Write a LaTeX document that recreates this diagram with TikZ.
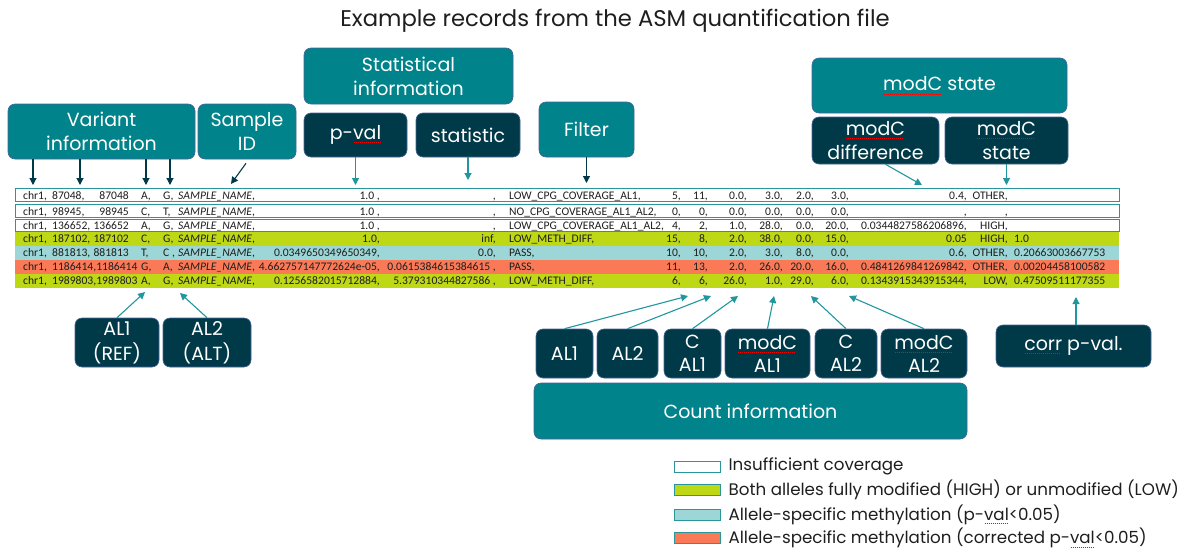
\documentclass[tikz,border=0pt]{standalone}
\usepackage{fontspec}
\setmainfont{Poppins}
\newfontfamily\rowfont{Carlito}
\usetikzlibrary{arrows.meta,positioning}

\definecolor{asmteal}{RGB}{0,131,138}
\definecolor{asmdark}{RGB}{0,58,72}
\definecolor{asmedge}{RGB}{70,100,150}
\definecolor{asmarrow}{RGB}{32,150,158}
\definecolor{asmline}{RGB}{42,150,156}
\definecolor{asmgreen}{RGB}{190,216,22}
\definecolor{asmcyan}{RGB}{156,214,214}
\definecolor{asmred}{RGB}{250,122,88}
\definecolor{asmtext}{RGB}{30,30,30}

% red dotted spell-check mark under a word
\newcommand{\spell}[2][white]{\setbox0\hbox{#2}\rlap{\raisebox{-3.5pt}{\color{red}\hbox to\wd0{\leaders\hbox to 2pt{\hss\rule{1pt}{0.6pt}\hss}\hfill}}}\textcolor{#1}{#2}}

% one record: left part (sets the baseline) and right part
\newcommand{\rowA}[8]{%
  \def\rowy{#1}%
  \node[fld,anchor=base west] at (23,\rowy) {chr1,};
  \node[fld,anchor=base west] at (52,\rowy) {#2};
  \node[fld,anchor=base east] at (129,\rowy) {#3};
  \node[fld,anchor=base west] at (141,\rowy) {#4};
  \node[fld,anchor=base west] at (163,\rowy) {#5};
  \node[fld,anchor=base west] at (178,\rowy) {\textit{SAMPLE\_NAME},};
  \node[fld,anchor=base east] at (380,\rowy) {#6};
  \node[fld,anchor=base east] at (496,\rowy) {#7};
  \node[fld,anchor=base west] at (509,\rowy) {#8};}
\newcommand{\rowB}[9]{%
  \node[fld,anchor=base east] at (681,\rowy) {#1};
  \node[fld,anchor=base east] at (708,\rowy) {#2};
  \node[fld,anchor=base east] at (747,\rowy) {#3};
  \node[fld,anchor=base east] at (783,\rowy) {#4};
  \node[fld,anchor=base east] at (814,\rowy) {#5};
  \node[fld,anchor=base east] at (849,\rowy) {#6};
  \node[fld,anchor=base east] at (967,\rowy) {#7};
  \node[fld,anchor=base east] at (1008,\rowy) {#8};
  \node[fld,anchor=base west] at (1014,\rowy) {#9};}

\begin{document}
\begin{tikzpicture}[x=1pt,y=-1pt,
  box/.style={rounded corners=7pt,draw=asmedge,line width=0.6pt,text=white,align=center,inner sep=0pt,font=\fontsize{19}{24}\selectfont},
  tealbox/.style={box,fill=asmteal},
  darkbox/.style={box,fill=asmdark},
  rowbox/.style={minimum width=1104pt,minimum height=14pt,inner sep=0pt,outer sep=0pt},
  fld/.style={inner sep=0pt,text=asmtext,font=\rowfont\fontsize{11.6}{13}\selectfont},
  darrow/.style={draw=asmdark,line width=1.1pt,-{Triangle[length=7pt,width=7pt]}},
  tarrow/.style={draw=asmarrow,line width=1.1pt,-{Triangle[length=7pt,width=7pt]}},
  legbox/.style={draw=asmline,line width=0.8pt,minimum width=46pt,minimum height=11pt,inner sep=0pt},
  legtext/.style={font=\fontsize{16.7}{19}\selectfont,text=asmtext,inner sep=0pt,anchor=west}]
\useasboundingbox (0,0) rectangle (1192,549);

\node[font=\fontsize{22.7}{26}\selectfont,text=asmtext] (title) at (615,21) {Example records from the ASM quantification file};

% boxes above the records
\node[tealbox,minimum width=187pt,minimum height=55pt] (varinfo) at (101.5,131.5) {Variant\\information};
\node[tealbox,minimum width=98pt,minimum height=55pt] (sampleid) at (247,131.5) {Sample\\ID};
\node[tealbox,minimum width=209pt,minimum height=56pt] (statinfo) at (408.5,76) {Statistical\\information};
\node[darkbox,minimum width=103pt,minimum height=44pt] (pval) at (355.5,135) {p-\spell{val}};
\node[darkbox,minimum width=104pt,minimum height=44pt] (statistic) at (468,135) {statistic};
\node[tealbox,minimum width=95pt,minimum height=55pt] (filter) at (586.5,129.5) {Filter};
\node[tealbox,minimum width=255pt,minimum height=55pt] (modcinfo) at (939.5,85.5) {\spell{modC} state};
\node[darkbox,minimum width=127pt,minimum height=47pt] (modcdiff) at (875.5,140.5) {\spell{modC}\\difference};
\node[darkbox,minimum width=123pt,minimum height=47pt] (modcstate) at (1006.5,140.5) {\spell{modC}\\state};

% records
\node[rowbox,draw=asmline,line width=0.9pt,minimum height=12.5pt] (r1) at (567,195) {};
\node[rowbox,draw=asmline,line width=0.9pt,minimum height=12.5pt] (r2) at (567,211) {};
\node[rowbox,draw=asmline,line width=0.9pt,minimum height=12.5pt] (r3) at (567,225.5) {};
\node[rowbox,fill=asmgreen] (r4) at (567,238.5) {};
\node[rowbox,fill=asmcyan] (r5) at (567,252.5) {};
\node[rowbox,fill=asmred] (r6) at (567,266.5) {};
\node[rowbox,fill=asmgreen] (r7) at (567,280.5) {};

\rowA{199}{87048,}{87048}{A,}{G,}{1.0 ,}{,}{LOW\_CPG\_COVERAGE\_AL1,}
\rowB{5,}{11,}{0.0,}{3.0,}{2.0,}{3.0,}{0.4,}{OTHER,}{}
\rowA{215}{98945,}{98945}{C,}{T,}{1.0 ,}{,}{NO\_CPG\_COVERAGE\_AL1\_AL2,}
\rowB{0,}{0,}{0.0,}{0.0,}{0.0,}{0.0,}{,}{,}{}
\rowA{229.5}{136652,}{136652}{A,}{G,}{1.0 ,}{,}{LOW\_CPG\_COVERAGE\_AL1\_AL2,}
\rowB{4,}{2,}{1.0,}{28.0,}{0.0,}{20.0,}{0.0344827586206896,}{HIGH,}{}
\rowA{242.5}{187102,}{187102}{C,}{G,}{1.0,}{inf,}{LOW\_METH\_DIFF,}
\rowB{15,}{8,}{2.0,}{38.0,}{0.0,}{15.0,}{0.05}{HIGH,}{1.0}
\rowA{256.5}{881813,}{881813}{T,}{C ,}{0.0349650349650349,}{0.0,}{PASS,}
\rowB{10,}{10,}{2.0,}{3.0,}{8.0,}{0.0,}{0.6,}{OTHER,}{0.20663003667753}
\rowA{270.5}{1186414,1186414}{}{G,}{A,}{4.662757147772624e-05,}{0.0615384615384615 ,}{PASS,}
\rowB{11,}{13,}{2.0,}{26.0,}{20.0,}{16.0,}{0.4841269841269842,}{OTHER,}{0.00204458100582}
\rowA{284.5}{1989803,1989803}{}{A,}{G,}{0.1256582015712884,}{5.379310344827586 ,}{LOW\_METH\_DIFF,}
\rowB{6,}{6,}{26.0,}{1.0,}{29.0,}{6.0,}{0.1343915343915344,}{LOW,}{0.47509511177355}

% arrows into the records
\coordinate (top) at (0,185);
\foreach \x [count=\i] in {33,80,146,170} {
  \coordinate (v\i) at (\x,185);
  \draw[darrow] (varinfo.south -| v\i) -- (v\i);
}
\coordinate (sidtip) at (231,184);
\draw[darrow] ([xshift=-1pt,yshift=-4pt]sampleid.south) -- (sidtip);
\draw[tarrow] (pval.south) -- (pval.south |- top);
\draw[tarrow] (statistic.south) -- ([yshift=5pt]statistic.south |- top);
\draw[darrow] (filter.south) -- ([yshift=2pt]filter.south |- top);
\coordinate (difftip) at (922,185);
\draw[tarrow] ([xshift=10pt]modcdiff.south) -- (difftip);
\draw[tarrow] (modcstate.south) -- (modcstate.south |- top);

% boxes below the records
\node[darkbox,minimum width=84pt,minimum height=49pt,font=\fontsize{19}{25}\selectfont] (al1ref) at (117,342.5) {AL1\\(REF)};
\node[darkbox,minimum width=88pt,minimum height=49pt,font=\fontsize{19}{25}\selectfont] (al2alt) at (207,342.5) {AL2\\(ALT)};
\coordinate (al1tip) at (145,292);
\coordinate (al2tip) at (180,293);
\draw[tarrow] (al1ref.north) -- (al1tip);
\draw[tarrow] (al2alt.north) -- (al2tip);

\node[darkbox,minimum width=57pt,minimum height=49pt] (cntal1) at (564.5,353.5) {AL1};
\node[darkbox,minimum width=61pt,minimum height=49pt] (cntal2) at (627.5,353.5) {AL2};
\node[darkbox,minimum width=57pt,minimum height=49pt,font=\fontsize{19}{23}\selectfont] (cal1) at (692.5,353.5) {C\\AL1};
\node[darkbox,minimum width=85pt,minimum height=49pt,font=\fontsize{19}{23}\selectfont] (modcal1) at (767.5,353.5) {\spell{modC}\\AL1};
\node[darkbox,minimum width=62pt,minimum height=49pt,font=\fontsize{19}{23}\selectfont] (cal2) at (846,353.5) {C\\AL2};
\node[darkbox,minimum width=86pt,minimum height=49pt,font=\fontsize{19}{23}\selectfont] (modcal2) at (924,353.5) {\spell{modC}\\AL2};
\node[tealbox,minimum width=433pt,minimum height=56pt] (countinfo) at (750.5,411) {Count information};
\foreach \n/\x in {cntal1/688,cntal2/711,cal1/738,modcal1/774,cal2/811,modcal2/849} {
  \coordinate (\n-tip) at (\x,296);
  \draw[tarrow] (\n.north) -- (\n-tip);
}
\node[darkbox,minimum width=155pt,minimum height=42pt] (corrp) at (1073.5,346) {\spell{corr} p-val.};
\coordinate (corrtip) at (1076,297);
\draw[tarrow] (corrp.north -| corrtip) -- (corrtip);

% legend
\node[legbox,fill=white] (lg1) at (697,466.5) {};
\node[legbox,fill=asmgreen] (lg2) at (697,489.5) {};
\node[legbox,fill=asmcyan] (lg3) at (697,514.5) {};
\node[legbox,fill=asmred] (lg4) at (697,538) {};
\node[legtext,right=8pt of lg1] (lt1) {Insufficient coverage};
\node[legtext,right=8pt of lg2] (lt2) {Both alleles fully modified (HIGH) or unmodified (LOW)};
\node[legtext,right=8pt of lg3] (lt3) {Allele-specific methylation (p-\spell[asmtext]{val}<0.05)};
\node[legtext,right=8pt of lg4] (lt4) {Allele-specific methylation (corrected p-\spell[asmtext]{val}<0.05)};
\end{tikzpicture}
\end{document}
